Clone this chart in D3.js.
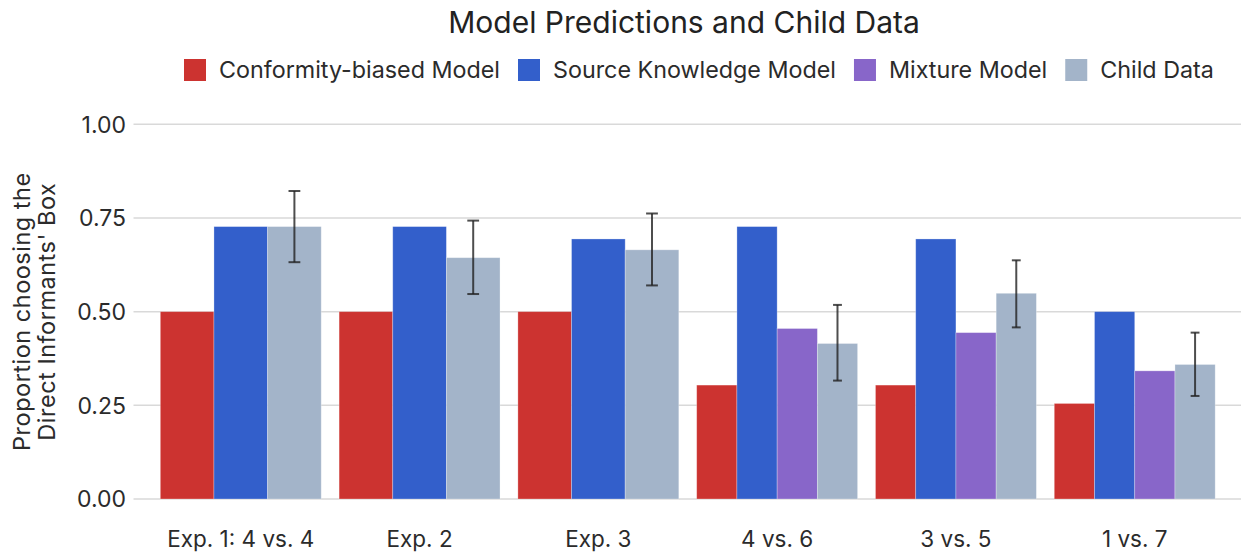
<!DOCTYPE html>
<html>
<head>
  <script src="https://cdnjs.cloudflare.com/ajax/libs/d3/7.8.5/d3.min.js"></script>
  <style>
    body { margin: 0; background: #fff; }
    text { font-family: Inter, "Noto Sans", sans-serif; fill: #2b2b2b; }
    .grid-line { stroke: #d9d9d9; stroke-width: 1.5; }
    .tick-label { font-size: 22.5px; }
    .err { stroke: #222; stroke-width: 2; stroke-opacity: 0.8; }
  </style>
</head>
<body>
  <div id="chart"></div>

  <script>
    // chart data
    const groups = ["Exp. 1: 4 vs. 4", "Exp. 2", "Exp. 3", "4 vs. 6", "3 vs. 5", "1 vs. 7"];
    const seriesNames = ["Conformity-biased Model", "Source Knowledge Model", "Mixture Model", "Child Data"];
    const seriesColors = ["#cc3330", "#335fcb", "#8866c9", "#a3b4c9"];
    const conformity = [0.5, 0.5, 0.5, 0.304, 0.304, 0.255];
    const source = [0.727, 0.727, 0.694, 0.727, 0.694, 0.5];
    const mixture = [null, null, null, 0.455, 0.444, 0.342];
    const child = [0.727, 0.644, 0.665, 0.415, 0.549, 0.359];
    const childLow = [0.632, 0.547, 0.570, 0.316, 0.458, 0.275];
    const childHigh = [0.822, 0.743, 0.762, 0.518, 0.637, 0.444];
    const yTicks = [0, 0.25, 0.5, 0.75, 1];

    const seriesValues = [conformity, source, mixture, child];

    const W = 1241, H = 557;
    const plot = {left: 133.5, right: 1242, top: 124.3, bottom: 499};

    const svg = d3.select("#chart").append("svg")
      .attr("width", W)
      .attr("height", H);

    const x0 = d3.scaleBand()
      .domain(groups)
      .range([plot.left, plot.right])
      .paddingInner(0.1)
      .paddingOuter(0.15);

    const y = d3.scaleLinear()
      .domain([0, 1])
      .range([plot.bottom, plot.top]);

    // horizontal grid
    svg.selectAll(".grid-line")
      .data(yTicks)
      .join("line")
      .attr("class", "grid-line")
      .attr("x1", plot.left)
      .attr("x2", W)
      .attr("y1", d => y(d))
      .attr("y2", d => y(d));

    // y tick labels
    svg.selectAll(".y-label")
      .data(yTicks)
      .join("text")
      .attr("x", 126)
      .attr("y", d => y(d))
      .attr("dy", "0.36em")
      .attr("text-anchor", "end")
      .style("font-size", "23px")
      .text(d => d3.format(".2f")(d));

    // y axis title (two lines)
    const yTitle = svg.append("text")
      .attr("transform", `translate(30,${y(0.5)}) rotate(-90)`)
      .attr("text-anchor", "middle")
      .style("font-size", "23.5px")
      .style("letter-spacing", "0.5px");
    yTitle.append("tspan").attr("x", 0).attr("dy", 0).text("Proportion choosing the");
    yTitle.append("tspan").attr("x", 0).attr("dy", "25px").text("Direct Informants' Box");

    // bars, dodged by the series present in each group
    groups.forEach((g, gi) => {
      const present = seriesNames.map((s, si) => si).filter(si => seriesValues[si][gi] != null);
      const x1 = d3.scaleBand()
        .domain(present)
        .range([x0(g), x0(g) + x0.bandwidth()]);

      svg.append("g")
        .selectAll("rect")
        .data(present)
        .join("rect")
        .attr("x", si => x1(si))
        .attr("width", x1.bandwidth())
        .attr("y", si => y(seriesValues[si][gi]))
        .attr("height", si => y(0) - y(seriesValues[si][gi]))
        .attr("fill", si => seriesColors[si])
        .attr("stroke", "rgba(255,255,255,0.35)")
        .attr("stroke-width", 0.8);

      // error bar on child data
      const cx = x1(3) + x1.bandwidth() / 2;
      const cap = x1.bandwidth() * 0.11;
      const eb = svg.append("g").attr("class", "err");
      eb.append("line").attr("x1", cx).attr("x2", cx).attr("y1", y(childLow[gi])).attr("y2", y(childHigh[gi]));
      eb.append("line").attr("x1", cx - cap).attr("x2", cx + cap).attr("y1", y(childLow[gi])).attr("y2", y(childLow[gi]));
      eb.append("line").attr("x1", cx - cap).attr("x2", cx + cap).attr("y1", y(childHigh[gi])).attr("y2", y(childHigh[gi]));
    });

    // x labels
    svg.selectAll(".x-label")
      .data(groups)
      .join("text")
      .attr("class", "tick-label")
      .attr("x", d => x0(d) + x0.bandwidth() / 2)
      .attr("y", 547)
      .attr("text-anchor", "middle")
      .text(d => d);

    // title
    svg.append("text")
      .attr("x", 684)
      .attr("y", 33)
      .attr("text-anchor", "middle")
      .style("font-size", "30px")
      .style("fill", "#222")
      .text("Model Predictions and Child Data");

    // legend
    const legend = svg.append("g").attr("transform", "translate(184,59)");
    let lx = 0;
    seriesNames.forEach((name, i) => {
      legend.append("rect")
        .attr("x", lx)
        .attr("y", 0)
        .attr("width", 22)
        .attr("height", 22)
        .attr("fill", seriesColors[i]);
      const t = legend.append("text")
        .attr("x", lx + 35)
        .attr("y", 11)
        .attr("dy", "0.36em")
        .style("font-size", "23.3px")
        .text(name);
      lx += 35 + t.node().getComputedTextLength() + 18;
    });
  </script>
</body>
</html>
